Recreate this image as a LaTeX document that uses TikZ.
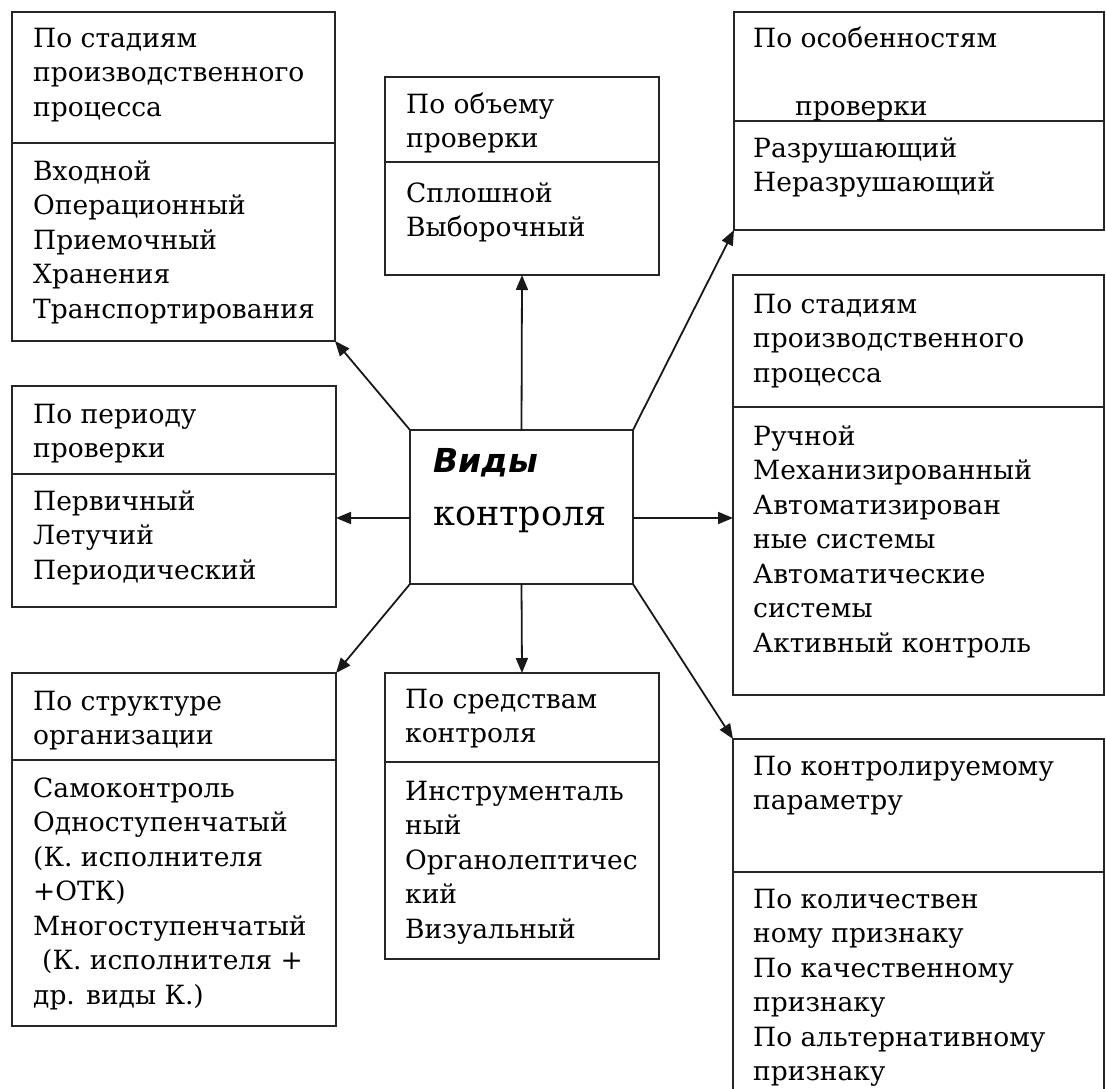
\documentclass[tikz,border=0pt]{standalone}
\usepackage{fontspec}
\setmainfont{DejaVu Serif}
\newfontfamily\vidfont{DejaVu Sans}
\usetikzlibrary{arrows.meta}
\newcommand{\tlines}[1]{\vtop{\baselineskip=34.5pt\lineskiplimit=-20pt\halign{##\hfil\cr #1\crcr}}}
\begin{document}
\begin{tikzpicture}[x=1pt,y=-1pt,
  box/.style={draw=black!85, line width=1.8pt, rectangle, anchor=north west, inner sep=0pt, outer sep=0pt},
  divline/.style={draw=black!85, line width=1.8pt},
  txt/.style={anchor=base west, inner sep=0pt, font=\fontsize{26.5}{34.5}\selectfont},
  conn/.style={draw=black!90, line width=1.8pt, -{Triangle[length=15pt,width=12pt]}}
]
\useasboundingbox (0,0) rectangle (1106,1088);
\clip (0,0) rectangle (1106,1088);
\fill[white] (0,0) rectangle (1106,1088);

% boxes
\node[box, minimum width=323pt, minimum height=329pt] (A) at (12,12) {};
\node[box, minimum width=274pt, minimum height=198pt] (B) at (385,77) {};
\node[box, minimum width=370pt, minimum height=218pt] (TR) at (734,12) {};
\node[box, minimum width=371pt, minimum height=420pt] (RM) at (733,275) {};
\node[box, minimum width=371pt, minimum height=420pt] (RB) at (733,739) {};
\node[box, minimum width=324pt, minimum height=221pt] (LM) at (12,386) {};
\node[box, minimum width=324pt, minimum height=353pt] (D) at (12,673) {};
\node[box, minimum width=274pt, minimum height=286pt] (C) at (385,673) {};
\node[box, minimum width=223pt, minimum height=154pt] (K) at (410,430) {};

% dividers
\draw[divline] (A.west |- 0,143) -- (A.east |- 0,143);
\draw[divline] (B.west |- 0,162) -- (B.east |- 0,162);
\draw[divline] (TR.west |- 0,121) -- (TR.east |- 0,121);
\draw[divline] (RM.west |- 0,407) -- (RM.east |- 0,407);
\draw[divline] (RB.west |- 0,872) -- (RB.east |- 0,872);
\draw[divline] (LM.west |- 0,474) -- (LM.east |- 0,474);
\draw[divline] (D.west |- 0,760) -- (D.east |- 0,760);
\draw[divline] (C.west |- 0,762) -- (C.east |- 0,762);

% texts
\node[txt] (Ah) at (33,47) {\tlines{По стадиям\cr производственного\cr процесса}};
\node[txt] (Ab) at (33,180) {\tlines{Входной\cr Операционный\cr Приемочный\cr Хранения\cr Транспортирования}};
\node[txt] (Bh) at (406,113) {\tlines{По объему\cr проверки}};
\node[txt] (Bb) at (406,202) {\tlines{Сплошной\cr Выборочный}};
\node[txt] (TRh) at (753,47) {По особенностям};
\node[txt] (TRh2) at (795,115) {проверки};
\node[txt] (TRb) at (753,157) {\tlines{Разрушающий\cr Неразрушающий}};
\node[txt] (RMh) at (753,313) {\tlines{По стадиям\cr производственного\cr процесса}};
\node[txt] (RMb) at (753,445) {\tlines{Ручной\cr Механизированный\cr Автоматизирован\cr ные системы\cr Автоматические\cr системы\cr Активный контроль}};
\node[txt] (RBh) at (753,775) {\tlines{По контролируемому\cr параметру}};
\node[txt] (RBb) at (753,908) {\tlines{По количествен\cr ному признаку\cr По качественному\cr признаку\cr По альтернативному\cr признаку}};
\node[txt] (LMh) at (33,423) {\tlines{По периоду\cr проверки}};
\node[txt] (LMb) at (33,510) {\tlines{Первичный\cr Летучий\cr Периодический}};
\node[txt] (Dh) at (33,710) {\tlines{По структуре\cr организации}};
\node[txt] (Db) at (33,797) {\tlines{Самоконтроль\cr Одноступенчатый\cr (К. исполнителя\cr +ОТК)\cr Многоступенчатый\cr \hspace*{9pt}(К. исполнителя +\cr др. виды К.)}};
\node[txt] (Ch) at (405,708) {\tlines{По средствам\cr контроля}};
\node[txt] (Cb) at (405,800) {\tlines{Инструменталь\cr ный\cr Органолептичес\cr кий\cr Визуальный}};
\node[anchor=base west, inner sep=0pt, font=\vidfont\bfseries\itshape\fontsize{33}{33}\selectfont] (K1) at (433,472) {Виды};
\node[anchor=base west, inner sep=0pt, font=\fontsize{35}{35}\selectfont] (K2) at (433,525) {контроля};

% connectors
\draw[conn] (K.north) -- (B.south);
\draw[conn] (K.south) -- (C.north);
\draw[conn] ([yshift=-11pt]K.west) -- ([yshift=-11pt]K.west -| LM.east);
\draw[conn] ([yshift=-11pt]K.east) -- ([yshift=-11pt]K.east -| RM.west);
\draw[conn] (K.north west) -- (A.south east);
\draw[conn] (K.north east) -- (TR.south west);
\draw[conn] (K.south west) -- (D.north east);
\draw[conn] (K.south east) -- (RB.north west);
\end{tikzpicture}
\end{document}
